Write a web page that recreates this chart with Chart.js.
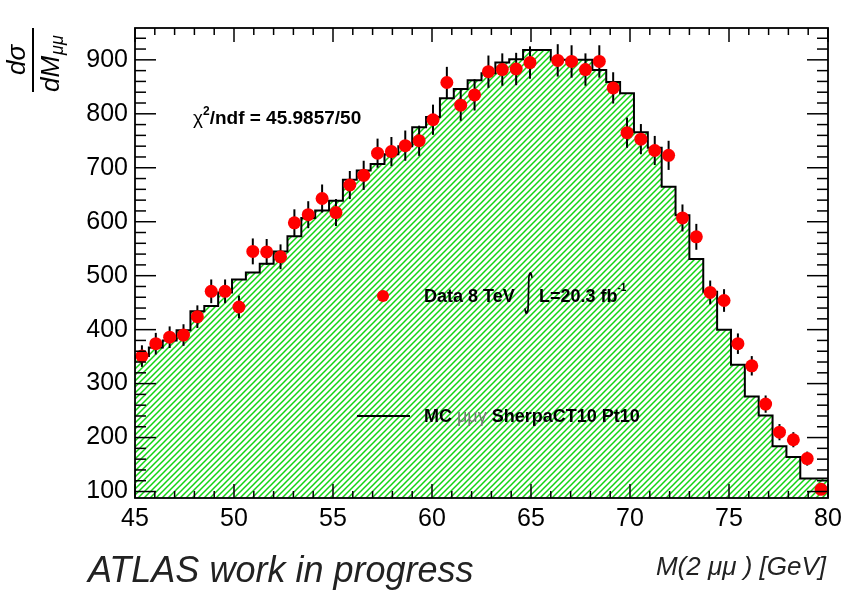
<!DOCTYPE html>
<html>
<head>
<meta charset="utf-8">
<script src="https://cdn.jsdelivr.net/npm/chart.js@4.4.1/dist/chart.umd.min.js"></script>
<style>
    html, body { margin: 0; padding: 0; background: #fff; }
    #wrap { width: 845px; height: 590px; position: relative; }
</style>
</head>
<body>
<div id="wrap"><canvas id="chart"></canvas></div>
<script>
// 50 bins of 0.7 GeV between 45 and 80
const X_MIN = 45;
const X_MAX = 80;
const BIN_WIDTH = 0.7;

const xTickLabels = [45, 50, 55, 60, 65, 70, 75, 80];
const yTickLabels = [100, 200, 300, 400, 500, 600, 700, 800, 900];

// Data 8 TeV (red points), one missing bin near the peak
const dataValues = [
    351, 374, 386, 390, 424, 471, 471, 442, 545, 544,
    535, 598, 613, 643, 617, 668, 686, 727, 730, 741,
    750, 789, 858, 816, 835, 878, 882, 883, 895, null,
    899, 897, 882, 897, 848, 765, 753, 732, 723, 607,
    572, 469, 454, 374, 333, 262, 210, 196, 161, 104
];
const dataErrors = [
    20, 20, 20, 20, 21, 22, 22, 21, 24, 24,
    23, 25, 25, 26, 25, 26, 27, 27, 27, 28,
    28, 28, 29, 29, 29, 30, 30, 30, 30, 0,
    30, 30, 30, 30, 29, 28, 28, 27, 27, 25,
    24, 22, 21, 19, 18, 16, 15, 14, 13, 10
];

// MC mumugamma SherpaCT10 Pt10 (hatched histogram)
const mcValues = [
    338, 351, 367, 380, 399, 434, 444, 469, 493, 506,
    522, 545, 573, 607, 621, 639, 678, 695, 707, 725,
    740, 775, 794, 829, 846, 862, 875, 895, 901, 918,
    918, 900, 900, 900, 881, 859, 838, 766, 737, 665,
    612, 531, 470, 400, 335, 276, 241, 184, 164, 124
];

const binLowEdges = mcValues.map((_, i) => X_MIN + BIN_WIDTH * i);
const binCenters = binLowEdges.map((e) => e + BIN_WIDTH / 2);

const FONT = '"Liberation Sans", Arial, Helvetica, sans-serif';

function makeHatch() {
    const tile = document.createElement('canvas');
    tile.width = 6;
    tile.height = 6;
    const g = tile.getContext('2d');
    g.strokeStyle = '#12d412';
    g.lineWidth = 1.5;
    g.beginPath();
    g.moveTo(0, 6); g.lineTo(6, 0);
    g.moveTo(-1, 1); g.lineTo(1, -1);
    g.moveTo(5, 7); g.lineTo(7, 5);
    g.stroke();
    return g.createPattern(tile, 'repeat');
}

const errorBars = {
    id: 'errorBars',
    beforeDatasetDraw(chart, args) {
        if (args.index !== 0) return;
        const { ctx, scales: { x, y } } = chart;
        ctx.save();
        ctx.strokeStyle = '#000';
        ctx.lineWidth = 2;
        dataValues.forEach((v, i) => {
            if (v === null) return;
            const px = x.getPixelForValue(binCenters[i]);
            ctx.beginPath();
            ctx.moveTo(px, y.getPixelForValue(v - dataErrors[i]));
            ctx.lineTo(px, y.getPixelForValue(v + dataErrors[i]));
            ctx.stroke();
        });
        ctx.restore();
    }
};

function drawTick(ctx, x1, y1, x2, y2) {
    ctx.beginPath();
    ctx.moveTo(x1, y1);
    ctx.lineTo(x2, y2);
    ctx.stroke();
}

// frame with inward ticks on all four sides, ROOT style
const frame = {
    id: 'frame',
    afterDraw(chart) {
        const { ctx, chartArea: a, scales: { x, y } } = chart;
        ctx.save();
        ctx.strokeStyle = '#000';
        ctx.lineWidth = 1.5;

        for (let v = X_MIN; v <= X_MAX; v += 1) {
            const px = x.getPixelForValue(v);
            const len = xTickLabels.includes(v) ? 14 : 7;
            drawTick(ctx, px, a.bottom, px, a.bottom - len);
            drawTick(ctx, px, a.top, px, a.top + len);
        }
        for (let v = 100; v <= y.max; v += 20) {
            const py = y.getPixelForValue(v);
            const len = yTickLabels.includes(v) ? 21 : 11;
            drawTick(ctx, a.left, py, a.left + len, py);
            drawTick(ctx, a.right, py, a.right - len, py);
        }
        ctx.lineWidth = 1.8;
        ctx.strokeRect(a.left, a.top, a.right - a.left, a.bottom - a.top);
        ctx.restore();
    }
};

const annotations = {
    id: 'annotations',
    afterDraw(chart) {
        const ctx = chart.ctx;
        ctx.save();
        ctx.fillStyle = '#000';
        ctx.textBaseline = 'alphabetic';
        ctx.textAlign = 'left';

        // chi2 / ndf
        let xpos = 193;
        ctx.font = `19px ${FONT}`;
        ctx.fillText('χ', xpos, 124);
        xpos += ctx.measureText('χ').width;
        ctx.font = `bold 12px ${FONT}`;
        ctx.fillText('2', xpos, 115);
        xpos += ctx.measureText('2').width;
        ctx.font = `bold 19px ${FONT}`;
        ctx.fillText('/ndf = 45.9857/50', xpos, 124);

        // legend: data
        ctx.fillStyle = '#ff0000';
        ctx.beginPath();
        ctx.arc(383, 296, 6, 0, Math.PI * 2);
        ctx.fill();
        ctx.fillStyle = '#000';
        ctx.font = `bold 18px ${FONT}`;
        ctx.fillText('Data 8 TeV', 424, 302);
        ctx.save();
        ctx.translate(523, 305);
        ctx.scale(0.7, 1.45);
        ctx.font = `30px "DejaVu Sans"`;
        ctx.fillText('∫', 0, 0);
        ctx.restore();
        ctx.font = `bold 18px ${FONT}`;
        ctx.fillText('L=20.3 fb', 539, 302);
        xpos = 539 + ctx.measureText('L=20.3 fb').width;
        ctx.font = `bold 10px ${FONT}`;
        ctx.fillText('-1', xpos, 291);

        // legend: MC
        ctx.strokeStyle = '#000';
        ctx.lineWidth = 2;
        drawTick(ctx, 357, 416, 410, 416);
        xpos = 424;
        ctx.font = `bold 18px ${FONT}`;
        ctx.fillText('MC ', xpos, 422);
        xpos += ctx.measureText('MC ').width;
        ctx.font = `18px ${FONT}`;
        ctx.fillStyle = '#777';
        ctx.fillText('μμγ ', xpos, 422);
        xpos += ctx.measureText('μμγ ').width;
        ctx.fillStyle = '#000';
        ctx.font = `bold 18px ${FONT}`;
        ctx.fillText('SherpaCT10 Pt10', xpos, 422);

        // bottom texts
        ctx.fillStyle = '#222';
        ctx.font = `italic 36px ${FONT}`;
        ctx.fillText('ATLAS work in progress', 88, 582);
        ctx.textAlign = 'right';
        ctx.font = `italic 26px ${FONT}`;
        ctx.fillText('M(2 μμ ) [GeV]', 826, 575);

        // y title: d sigma / d M_mumu, rotated
        ctx.fillStyle = '#000';
        ctx.translate(33, 60);
        ctx.rotate(-Math.PI / 2);
        ctx.textAlign = 'center';
        ctx.font = `italic 26px ${FONT}`;
        ctx.fillText('dσ', 0, -8);
        ctx.fillRect(-32, -1, 64, 2);
        ctx.textAlign = 'left';
        ctx.fillText('dM', -32, 26);
        const mw = ctx.measureText('dM').width;
        ctx.font = `italic 18px ${FONT}`;
        ctx.fillText('μμ', -32 + mw + 1, 30);
        ctx.restore();
    }
};

function main() {
    const ctx = document.getElementById('chart');

    const dataPoints = [];
    dataValues.forEach((v, i) => {
        if (v !== null) dataPoints.push({ x: binCenters[i], y: v });
    });

    const mcPoints = binLowEdges.map((e, i) => ({ x: e, y: mcValues[i] }));
    mcPoints.push({ x: X_MAX, y: mcValues[mcValues.length - 1] });

    new Chart(ctx, {
        type: 'line',
        data: {
            datasets: [
                {
                    label: 'Data 8 TeV',
                    data: dataPoints,
                    showLine: false,
                    pointRadius: 6.5,
                    pointHoverRadius: 6.5,
                    pointBackgroundColor: '#ff0000',
                    pointBorderWidth: 0,
                    order: 0
                },
                {
                    label: 'MC',
                    data: mcPoints,
                    stepped: 'after',
                    fill: 'start',
                    backgroundColor: makeHatch(),
                    borderColor: '#000',
                    borderWidth: 2,
                    pointRadius: 0,
                    order: 1
                }
            ]
        },
        options: {
            responsive: true,
            maintainAspectRatio: false,
            animation: false,
            devicePixelRatio: 1,
            layout: { padding: { left: 0, right: 17, top: 28, bottom: 0 } },
            plugins: {
                legend: { display: false },
                tooltip: { enabled: false }
            },
            scales: {
                x: {
                    type: 'linear',
                    min: X_MIN,
                    max: X_MAX,
                    grid: { display: false, drawTicks: false },
                    border: { display: false },
                    afterBuildTicks: (scale) => {
                        scale.ticks = xTickLabels.map((v) => ({ value: v }));
                    },
                    afterFit: (scale) => {
                        scale.height = 92;
                        scale.paddingLeft = 0;
                        scale.paddingRight = 0;
                    },
                    ticks: {
                        autoSkip: false,
                        maxRotation: 0,
                        padding: 6,
                        color: '#000',
                        font: { family: FONT, size: 25 }
                    }
                },
                y: {
                    min: 88,
                    max: 959,
                    grid: { display: false, drawTicks: false },
                    border: { display: false },
                    afterBuildTicks: (scale) => {
                        scale.ticks = yTickLabels.map((v) => ({ value: v }));
                    },
                    afterFit: (scale) => {
                        scale.width = 135;
                        scale.paddingTop = 0;
                        scale.paddingBottom = 0;
                    },
                    ticks: {
                        padding: 7,
                        color: '#000',
                        font: { family: FONT, size: 25 }
                    }
                }
            }
        },
        plugins: [errorBars, frame, annotations]
    });
}

main();
</script>
</body>
</html>
